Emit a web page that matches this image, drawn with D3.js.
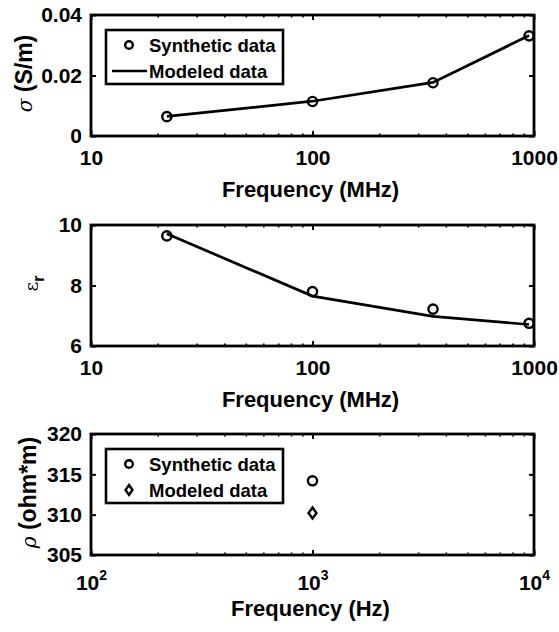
<!DOCTYPE html>
<html>
<head>
<meta charset="utf-8">
<script src="https://cdn.jsdelivr.net/npm/d3@7"></script>
<style>
  body { margin: 0; background: #fff; }
  svg { display: block; }
  text { font-family: "Liberation Sans", Arial, Helvetica, sans-serif; font-weight: bold; fill: #000; }
</style>
</head>
<body>
<svg id="chart" width="559" height="632"></svg>
<script>
// ---- Data ----
const freqMHz = [22, 100, 350, 950];
const sigmaSynthetic = [0.0064, 0.0114, 0.0176, 0.0331];
const sigmaModeled   = [0.0065, 0.0115, 0.0177, 0.0332];
const epsSynthetic = [9.64, 7.80, 7.22, 6.75];
const epsModeled   = [9.71, 7.65, 6.98, 6.71];
const freqHz = [1000];
const rhoSynthetic = [314.2];
const rhoModeled   = [310.2];

const xTicksMHz = [10, 100, 1000];
const sigmaTicks = [0, 0.02, 0.04];
const epsTicks = [6, 8, 10];
const xTicksHz = [100, 1000, 10000];
const rhoTicks = [305, 310, 315, 320];
const legendLabels = ["Synthetic data", "Modeled data"];

// ---- Layout ----
const svg = d3.select("#chart");
const L = 91, R = 534;
const panels = [
  { top: 15, bottom: 136, xDomain: [10, 1000], yDomain: [0, 0.04], xTicks: xTicksMHz, yTicks: sigmaTicks },
  { top: 225, bottom: 346, xDomain: [10, 1000], yDomain: [6, 10], xTicks: xTicksMHz, yTicks: epsTicks },
  { top: 434, bottom: 555, xDomain: [100, 10000], yDomain: [305, 320], xTicks: xTicksHz, yTicks: rhoTicks }
];

function minorTicks(domain) {
  const out = [];
  for (let d = domain[0]; d < domain[1]; d *= 10) {
    for (let k = 2; k <= 9; k++) out.push(d * k);
  }
  return out;
}

panels.forEach((p, i) => {
  const x = d3.scaleLog().domain(p.xDomain).range([L, R]);
  const y = d3.scaleLinear().domain(p.yDomain).range([p.bottom, p.top]);
  p.x = x; p.y = y;
  const g = svg.append("g");

  const minors = minorTicks(p.xDomain);
  g.append("g").attr("transform", `translate(0,${p.bottom})`)
    .call(d3.axisBottom(x).tickValues(minors).tickSize(-2.5).tickFormat(""))
    .call(s => s.select(".domain").remove())
    .selectAll("line").attr("stroke", "#000").attr("stroke-width", 1.6);
  g.append("g").attr("transform", `translate(0,${p.top})`)
    .call(d3.axisTop(x).tickValues(minors).tickSize(-2.5).tickFormat(""))
    .call(s => s.select(".domain").remove())
    .selectAll("line").attr("stroke", "#000").attr("stroke-width", 1.6);

  const xb = g.append("g").attr("transform", `translate(0,${p.bottom})`)
    .call(d3.axisBottom(x).tickValues(p.xTicks).tickSize(-5)
      .tickFormat(i === 2 ? () => "" : d3.format("d")));
  xb.select(".domain").remove();
  xb.selectAll("line").attr("stroke", "#000").attr("stroke-width", 2);
  xb.selectAll("text").attr("font-size", 21).attr("dy", null).attr("y", 29)
    .attr("font-family", "Liberation Sans, Arial, sans-serif").attr("font-weight", "bold");
  if (i === 2) {
    xb.selectAll(".tick text").each(function(d) {
      const t = d3.select(this).attr("y", 35);
      const e = Math.round(Math.log10(d));
      t.text(null);
      t.append("tspan").text("10");
      t.append("tspan").attr("dy", -10).attr("font-size", 14).text(e);
    });
  }
  g.append("g").attr("transform", `translate(0,${p.top})`)
    .call(d3.axisTop(x).tickValues(p.xTicks).tickSize(-5).tickFormat(""))
    .call(s => s.select(".domain").remove())
    .selectAll("line").attr("stroke", "#000").attr("stroke-width", 2);

  const yl = g.append("g").attr("transform", `translate(${L},0)`)
    .call(d3.axisLeft(y).tickValues(p.yTicks).tickSize(-5).tickPadding(9)
      .tickFormat(d => (i === 0 ? (d === 0 ? "0" : d3.format(".2f")(d)) : d3.format("d")(d))));
  yl.select(".domain").remove();
  yl.selectAll("line").attr("stroke", "#000").attr("stroke-width", 2);
  yl.selectAll("text").attr("font-size", 21)
    .attr("font-family", "Liberation Sans, Arial, sans-serif").attr("font-weight", "bold");
  g.append("g").attr("transform", `translate(${R},0)`)
    .call(d3.axisRight(y).tickValues(p.yTicks).tickSize(-5).tickFormat(""))
    .call(s => s.select(".domain").remove())
    .selectAll("line").attr("stroke", "#000").attr("stroke-width", 2);

  g.append("rect").attr("x", L).attr("y", p.top).attr("width", R - L).attr("height", p.bottom - p.top)
    .attr("fill", "none").attr("stroke", "#000").attr("stroke-width", 2.8);

  g.append("text").attr("x", (L + R) / 2 - 2).attr("y", p.bottom + 61)
    .attr("text-anchor", "middle").attr("font-size", 22)
    .text(i === 2 ? "Frequency (Hz)" : "Frequency (MHz)");
});

// ---- y labels ----
function yLabel(p, xPos, build) {
  const t = svg.append("text")
    .attr("transform", `translate(${xPos},${(p.top + p.bottom) / 2 - 2}) rotate(-90)`)
    .attr("text-anchor", "middle").attr("font-size", 23);
  build(t);
}
yLabel(panels[0], 32, t => {
  t.append("tspan").attr("font-weight", "normal").attr("font-style", "italic").attr("font-family", "DejaVu Serif, serif").attr("font-size", 20).text("σ");
  t.append("tspan").text(" (S/m)");
});
yLabel(panels[1], 38, t => {
  t.append("tspan").attr("font-weight", "normal").attr("font-family", "DejaVu Serif, serif").attr("font-size", 19).text("ε");
  t.append("tspan").attr("font-size", 16).attr("dy", 6).text("r");
});
yLabel(panels[2], 36, t => {
  t.append("tspan").attr("font-weight", "normal").attr("font-style", "italic").attr("font-family", "DejaVu Serif, serif").attr("font-size", 20).text("ρ");
  t.append("tspan").text(" (ohm*m)");
});

// ---- marks ----
const diamond = (cx, cy) => `M${cx},${cy - 5.5}L${cx + 4},${cy}L${cx},${cy + 5.5}L${cx - 4},${cy}Z`;

{
  const p = panels[0];
  svg.append("path").datum(freqMHz.map((f, k) => [f, sigmaModeled[k]]))
    .attr("d", d3.line().x(d => p.x(d[0])).y(d => p.y(d[1])))
    .attr("fill", "none").attr("stroke", "#000").attr("stroke-width", 2.7);
  svg.selectAll(".c1").data(freqMHz.map((f, k) => [f, sigmaSynthetic[k]])).enter()
    .append("circle").attr("cx", d => p.x(d[0])).attr("cy", d => p.y(d[1])).attr("r", 4.6)
    .attr("fill", "none").attr("stroke", "#000").attr("stroke-width", 2.4);
}
{
  const p = panels[1];
  svg.append("path").datum(freqMHz.map((f, k) => [f, epsModeled[k]]))
    .attr("d", d3.line().x(d => p.x(d[0])).y(d => p.y(d[1])))
    .attr("fill", "none").attr("stroke", "#000").attr("stroke-width", 2.7);
  svg.selectAll(".c2").data(freqMHz.map((f, k) => [f, epsSynthetic[k]])).enter()
    .append("circle").attr("cx", d => p.x(d[0])).attr("cy", d => p.y(d[1])).attr("r", 4.6)
    .attr("fill", "none").attr("stroke", "#000").attr("stroke-width", 2.4);
}
{
  const p = panels[2];
  svg.selectAll(".c3").data(freqHz.map((f, k) => [f, rhoSynthetic[k]])).enter()
    .append("circle").attr("cx", d => p.x(d[0])).attr("cy", d => p.y(d[1])).attr("r", 4.6)
    .attr("fill", "none").attr("stroke", "#000").attr("stroke-width", 2.4);
  svg.selectAll(".d3m").data(freqHz.map((f, k) => [f, rhoModeled[k]])).enter()
    .append("path").attr("d", d => diamond(p.x(d[0]), p.y(d[1])))
    .attr("fill", "none").attr("stroke", "#000").attr("stroke-width", 2.4);
}

// ---- legends ----
function legend(top, second) {
  const g = svg.append("g");
  g.append("rect").attr("x", 106).attr("y", top).attr("width", 177).attr("height", 54)
    .attr("fill", "#fff").attr("stroke", "#000").attr("stroke-width", 2.6);
  const y1 = top + 15, y2 = top + 41;
  g.append("circle").attr("cx", 129).attr("cy", y1).attr("r", 3.8)
    .attr("fill", "none").attr("stroke", "#000").attr("stroke-width", 2.4);
  if (second === "line") {
    g.append("line").attr("x1", 112).attr("x2", 147).attr("y1", y2).attr("y2", y2)
      .attr("stroke", "#000").attr("stroke-width", 2.7);
  } else {
    g.append("path").attr("d", `M129,${y2 - 5}L132.5,${y2}L129,${y2 + 5}L125.5,${y2}Z`)
      .attr("fill", "none").attr("stroke", "#000").attr("stroke-width", 2.4);
  }
  g.append("text").attr("x", 149).attr("y", y1 + 6.5).attr("font-size", 18.5).text(legendLabels[0]);
  g.append("text").attr("x", 149).attr("y", y2 + 6.5).attr("font-size", 18.5).text(legendLabels[1]);
}
legend(30, "line");
legend(449, "diamond");
</script>
</body>
</html>
